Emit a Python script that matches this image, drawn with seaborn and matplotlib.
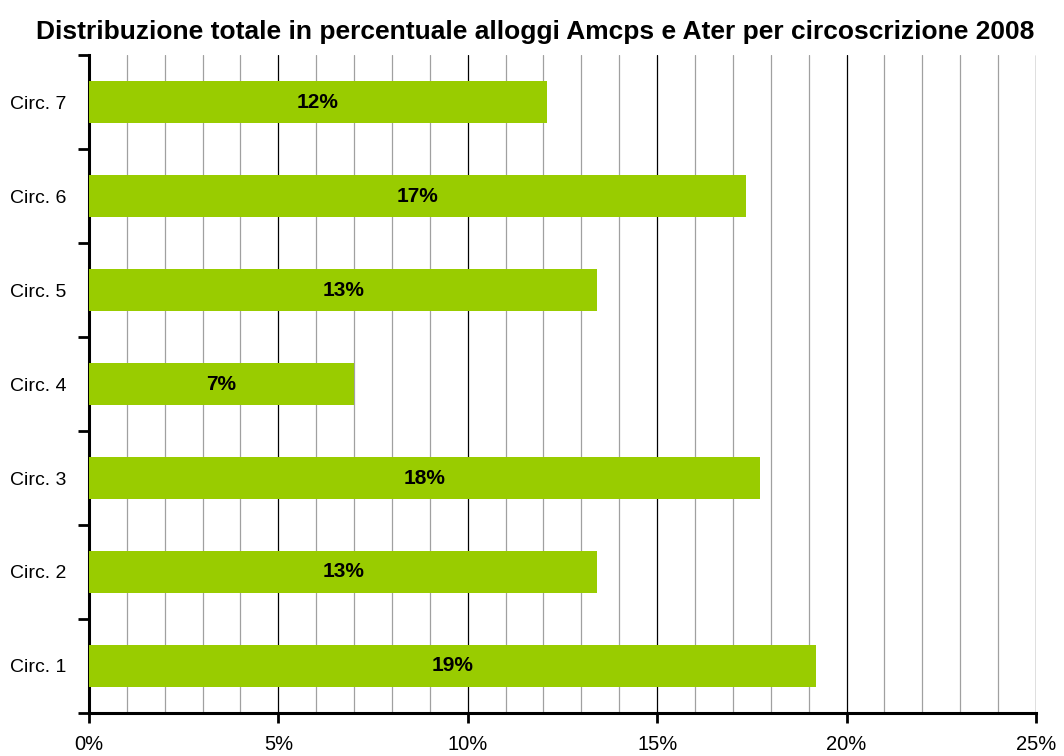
import pandas as pd
import seaborn as sns
import matplotlib.pyplot as plt
from matplotlib.ticker import MultipleLocator, FuncFormatter

# values (percent)
circoscrizioni = ["Circ. 1", "Circ. 2", "Circ. 3", "Circ. 4", "Circ. 5", "Circ. 6", "Circ. 7"]
percentuali = [19.19, 13.42, 17.71, 7.0, 13.42, 17.34, 12.08]
etichette = ["19%", "13%", "18%", "7%", "13%", "17%", "12%"]

df = pd.DataFrame({"circ": circoscrizioni, "perc": percentuali, "lab": etichette})
order = circoscrizioni[::-1]  # Circ. 7 on top

sns.set_style("white")
plt.rcParams["font.family"] = ["Liberation Sans", "DejaVu Sans"]
plt.rcParams["text.color"] = "black"
plt.rcParams["xtick.color"] = "black"
plt.rcParams["ytick.color"] = "black"

fig = plt.figure(figsize=(10.64, 7.56), dpi=100)
ax = fig.add_axes([0.0836, 0.057, 0.890, 0.870])

sns.barplot(data=df, x="perc", y="circ", order=order, color="#99CC00",
            width=0.45, saturation=1, linewidth=0, ax=ax, zorder=3)

ax.set_xlim(0, 25)
ax.set_ylim(len(order) - 0.5, -0.5)
ax.xaxis.set_major_locator(MultipleLocator(5))
ax.xaxis.set_minor_locator(MultipleLocator(1))
ax.xaxis.set_major_formatter(FuncFormatter(lambda v, p: f"{v:.0f}%"))
ax.grid(True, axis="x", which="major", color="black", linewidth=0.9, zorder=0)
ax.grid(True, axis="x", which="minor", color="#a0a0a0", linewidth=0.9, zorder=0)
ax.set_axisbelow(True)

# y ticks sit between categories, labels at the centres
ax.set_yticks([i + 0.5 for i in range(-1, len(order))])
ax.set_yticklabels([])
ax.set_yticks(range(len(order)), minor=True)
ax.set_yticklabels(order, minor=True, fontsize=14)
ax.tick_params(axis="y", which="major", direction="out", length=8, width=2, left=True)
ax.tick_params(axis="y", which="minor", length=0, pad=16)
ax.tick_params(axis="x", which="major", direction="out", length=7, width=2,
               bottom=True, labelsize=14.5, pad=9)
ax.tick_params(axis="x", which="minor", length=0)

for side in ["top", "right"]:
    ax.spines[side].set_visible(False)
for side in ["left", "bottom"]:
    ax.spines[side].set_linewidth(2.2)
    ax.spines[side].set_color("black")

for i, c in enumerate(order):
    row = df[df["circ"] == c].iloc[0]
    ax.text(row["perc"] / 2, i, row["lab"], ha="center", va="center",
            fontsize=15, fontweight="bold", zorder=4)

ax.set_xlabel("")
ax.set_ylabel("")
fig.suptitle("Distribuzione totale in percentuale alloggi Amcps e Ater per circoscrizione 2008",
             fontsize=19, fontweight="bold", x=0.503, y=0.974)

fig.savefig("out.png", dpi=100)
